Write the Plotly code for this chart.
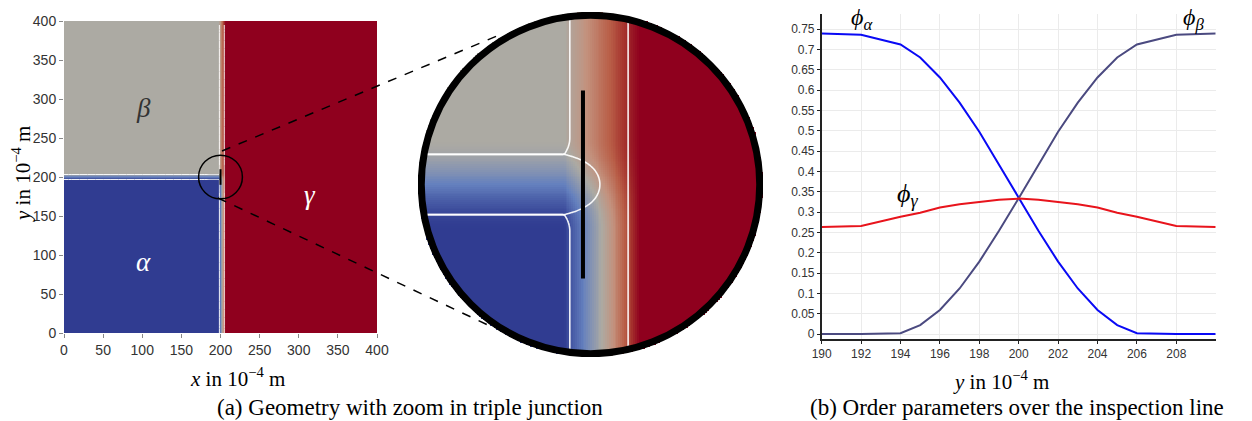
import numpy as np
import plotly.graph_objects as go

# ---------------- data: order parameters along the inspection line ----------------
y_line = [190, 192, 194, 195, 196, 197, 198, 199, 200, 201, 202, 203, 204, 205, 206, 208, 210]
phi_alpha = [0.739, 0.736, 0.712, 0.680, 0.631, 0.569, 0.4975, 0.416, 0.334, 0.254, 0.178,
             0.112, 0.059, 0.022, 0.002, 0.0, 0.0]
phi_beta = [0.0, 0.0, 0.002, 0.022, 0.059, 0.112, 0.178, 0.254, 0.334, 0.416, 0.4975,
            0.569, 0.631, 0.680, 0.712, 0.736, 0.739]
phi_gamma = [0.263, 0.2655, 0.2885, 0.298, 0.311, 0.319, 0.3245, 0.330, 0.333, 0.330, 0.3245,
             0.319, 0.311, 0.298, 0.2885, 0.2655, 0.263]

x_ticks_right = [190, 192, 194, 196, 198, 200, 202, 204, 206, 208]
y_ticks_right = [0, 0.05, 0.1, 0.15, 0.2, 0.25, 0.3, 0.35, 0.4, 0.45, 0.5, 0.55, 0.6, 0.65, 0.7, 0.75]
y_ticktext_right = ["0", "0.05", "0.1", "0.15", "0.2", "0.25", "0.3", "0.35", "0.4", "0.45",
                    "0.5", "0.55", "0.6", "0.65", "0.7", "0.75"]
geo_ticks = [0, 50, 100, 150, 200, 250, 300, 350, 400]

# ---------------- geometry of the triple junction ----------------
domain_size = 400
gamma_ramp = (198.0, 206.0)      # diffuse gamma interface (x)
band_center = 200.0              # alpha/beta interface (y)
band_width = 9.9
inspection_x = 200.0
inspection_y = (190.0, 210.0)
zoom_center = (200.8, 200.0)
zoom_radius = 18.0
zoom_half = 18.35
small_circle_r = 28.0


def fields(X, Y):
    g = np.clip((X - gamma_ramp[0]) / (gamma_ramp[1] - gamma_ramp[0]), 0, 1)
    u = np.clip((Y - band_center) / band_width, -0.5, 0.5)
    h = 0.5 - 0.5 * np.sin(np.pi * u)
    pa = (1 - g) * h
    pb = (1 - g) * (1 - h)
    pg = g
    return pa, pb, pg


colorscale = [[0.0, "rgb(48,60,145)"], [0.25, "rgb(100,128,190)"], [0.5, "rgb(172,170,163)"],
              [0.65, "rgb(195,145,125)"], [0.8, "rgb(185,95,72)"], [0.9, "rgb(165,50,45)"],
              [1.0, "rgb(143,0,30)"]]

# left panel grid (fine near the junction)
xs_l = np.concatenate([np.arange(0, 185, 10), np.arange(185, 215, 0.5), np.arange(215, 401, 10)])
ys_l = np.concatenate([np.arange(0, 185, 10), np.arange(185, 215, 0.5), np.arange(215, 401, 10)])
XL, YL = np.meshgrid(xs_l, ys_l)
paL, pbL, pgL = fields(XL, YL)
sL = np.round(0.5 * pbL + pgL, 3)

# zoom grid
xs_z = np.arange(zoom_center[0] - zoom_half, zoom_center[0] + zoom_half + 0.01, 0.2)
ys_z = np.arange(zoom_center[1] - zoom_half, zoom_center[1] + zoom_half + 0.01, 0.2)
XZ, YZ = np.meshgrid(xs_z, ys_z)
paZ, pbZ, pgZ = fields(XZ, YZ)
sZ = 0.5 * pbZ + pgZ
mask = (XZ - zoom_center[0]) ** 2 + (YZ - zoom_center[1]) ** 2 > (zoom_radius + 0.3) ** 2
sZ = np.where(mask, np.nan, np.round(sZ, 3))

W, H = 1252, 421
fx = lambda px: px / W
fy = lambda py: 1 - py / H

fig = go.Figure()


def add_contours(xs, ys, flds, width, xa, ya):
    for fld, lvl in flds:
        fig.add_trace(go.Contour(x=xs, y=ys, z=np.round(fld, 4), showscale=False, hoverinfo="skip",
                                 autocontour=False,
                                 contours=dict(start=lvl, end=lvl, size=1, coloring="none",
                                               showlabels=False),
                                 line=dict(color="rgba(255,255,255,0.92)", width=width),
                                 xaxis=xa, yaxis=ya))


# ---- left panel
fig.add_trace(go.Heatmap(x=xs_l, y=ys_l, z=sL, zmin=0, zmax=1, colorscale=colorscale,
                         showscale=False, hoverinfo="skip", xaxis="x", yaxis="y"))
add_contours(xs_l, ys_l, [(pbL, 0.925), (paL, 0.925), (pgL, 0.85)], 1, "x", "y")

# ---- zoom panel
fig.add_trace(go.Heatmap(x=xs_z, y=ys_z, z=sZ, zmin=0, zmax=1, colorscale=colorscale,
                         showscale=False, hoverinfo="skip", xaxis="x2", yaxis="y2"))
add_contours(xs_z, ys_z, [(pbZ, 0.925), (paZ, 0.925), (pgZ, 0.85), (paZ * pbZ, 0.069)],
             1.6, "x2", "y2")

# ---- right panel
for vals, col in [(phi_alpha, "#0a0af5"), (phi_beta, "#4b4a80"), (phi_gamma, "#e8141c")]:
    fig.add_trace(go.Scatter(x=y_line, y=vals, mode="lines", line=dict(color=col, width=2),
                             hoverinfo="skip", showlegend=False, xaxis="x3", yaxis="y3"))

tickfont_l = dict(family="Liberation Sans", size=14, color="#333")
tickfont_r = dict(family="Liberation Sans", size=12, color="#333")

fig.update_layout(
    width=W, height=H, autosize=False,
    margin=dict(l=0, r=0, t=0, b=0, pad=0, autoexpand=False),
    paper_bgcolor="white", plot_bgcolor="white", showlegend=False,
    xaxis=dict(domain=[fx(64), fx(377)], range=[0, domain_size], tickvals=geo_ticks, automargin=False,
               showgrid=False, zeroline=False, showline=False, ticks="outside", ticklen=4,
               tickcolor="#888", tickfont=tickfont_l, anchor="y"),
    yaxis=dict(domain=[fy(333), fy(21)], range=[0, domain_size], tickvals=geo_ticks, automargin=False,
               showgrid=False, zeroline=False, showline=False, ticks="outside", ticklen=4,
               tickcolor="#888", tickfont=tickfont_l, anchor="x"),
    xaxis2=dict(domain=[fx(418), fx(763)], range=[zoom_center[0] - zoom_half, zoom_center[0] + zoom_half],
                visible=False, anchor="y2", automargin=False),
    yaxis2=dict(domain=[fy(357), fy(12)], range=[zoom_center[1] - zoom_half, zoom_center[1] + zoom_half],
                visible=False, anchor="x2", automargin=False),
    xaxis3=dict(domain=[fx(821.7), fx(1215.7)], range=[190, 210], tickvals=x_ticks_right,
                showgrid=True, gridcolor="#ebebeb", gridwidth=1, zeroline=False, automargin=False,
                showline=True, linecolor="#222", linewidth=1.5, ticks="outside", ticklen=3,
                tickcolor="#222", tickfont=tickfont_r, anchor="y3"),
    yaxis3=dict(domain=[fy(339.3), fy(14)], range=[-0.013, 0.787], tickvals=y_ticks_right,
                ticktext=y_ticktext_right, showgrid=True, gridcolor="#ebebeb", gridwidth=1,
                zeroline=False, showline=True, linecolor="#222", linewidth=1.5, ticks="outside",
                ticklen=3, tickcolor="#222", tickfont=tickfont_r, anchor="x3", automargin=False),
)

shapes = [
    dict(type="circle", xref="x", yref="y", x0=inspection_x - small_circle_r, x1=inspection_x + small_circle_r,
         y0=200 - small_circle_r, y1=200 + small_circle_r, line=dict(color="black", width=1.5)),
    dict(type="line", xref="x", yref="y", x0=inspection_x, x1=inspection_x, y0=inspection_y[0],
         y1=inspection_y[1], line=dict(color="black", width=2)),
    dict(type="circle", xref="x2", yref="y2", x0=zoom_center[0] - zoom_radius, x1=zoom_center[0] + zoom_radius,
         y0=zoom_center[1] - zoom_radius, y1=zoom_center[1] + zoom_radius, line=dict(color="black", width=7)),
    dict(type="line", xref="x2", yref="y2", x0=inspection_x, x1=inspection_x, y0=inspection_y[0],
         y1=inspection_y[1], line=dict(color="black", width=4)),
    dict(type="line", xref="paper", yref="paper", x0=fx(222), y0=fy(151), x1=fx(497), y1=fy(36),
         line=dict(color="black", width=1.5, dash="dash")),
    dict(type="line", xref="paper", yref="paper", x0=fx(218), y0=fy(198), x1=fx(490), y1=fy(326),
         line=dict(color="black", width=1.5, dash="dash")),
]
fig.update_layout(shapes=shapes)

serif = "Liberation Serif"
ann = []


def A(text, px, py, size, color="black", angle=0):
    ann.append(dict(text=text, x=fx(px), y=fy(py), xref="paper", yref="paper", showarrow=False,
                    xanchor="center", yanchor="middle", textangle=angle,
                    font=dict(family=serif, size=size, color=color)))


A("<i>β</i>", 143, 108, 27, "#333")
A("<i>α</i>", 143, 262, 27, "white")
A("<i>γ</i>", 310, 195, 27, "white")
A("<i>x</i> in 10<sup>−4</sup> m", 237, 377, 21)
A("<i>y</i> in 10<sup>−4</sup> m", 21, 174, 21, angle=-90)
A("(a) Geometry with zoom in triple junction", 410, 407, 23)
A("<i>y</i> in 10<sup>−4</sup> m", 1001, 380, 21)
A("(b) Order parameters over the inspection line", 1017, 407, 23)
A("<i>ϕ</i><sub><i>α</i></sub>", 862, 19, 24)
A("<i>ϕ</i><sub><i>β</i></sub>", 1193, 19, 24)
A("<i>ϕ</i><sub><i>γ</i></sub>", 907, 195, 26)
fig.update_layout(annotations=ann)

fig.write_html("out.html")
